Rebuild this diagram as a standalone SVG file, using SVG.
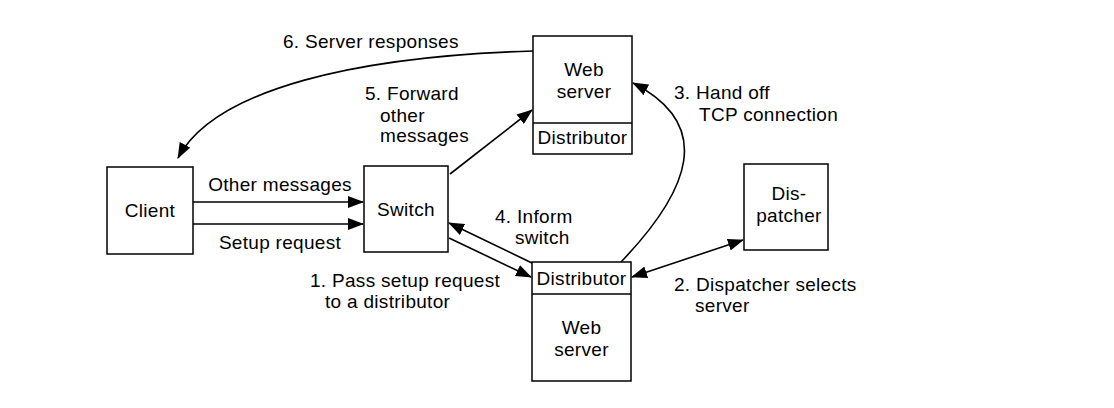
<svg xmlns="http://www.w3.org/2000/svg" width="1114" height="408" viewBox="0 0 1114 408">
<style>
.box{fill:#fff;stroke:#000;stroke-width:1.5}
.t{font-family:"Liberation Sans",Arial,sans-serif;font-size:19px;fill:#000;letter-spacing:0.3px}
.c{text-anchor:middle}
.ln{fill:none;stroke:#000;stroke-width:1.6}
</style>
<defs>
<marker id="ah" markerWidth="16" markerHeight="12" refX="15" refY="6" orient="auto-start-reverse" markerUnits="userSpaceOnUse">
<path d="M0,0 L16,6 L0,12 Z" fill="#000"/>
</marker>
</defs>
<rect width="1114" height="408" fill="#fff"/>
<g id="connectors">
<path class="ln" d="M193,202 L363,202" marker-end="url(#ah)"/>
<path class="ln" d="M193,224 L363,224" marker-end="url(#ah)"/>
<path class="ln" d="M533,51 C360,56 215,88 178,158" marker-end="url(#ah)"/>
<path class="ln" d="M450,174 L532,110" marker-end="url(#ah)"/>
<path class="ln" d="M621,262 C690,190 715,125 633,83" marker-end="url(#ah)"/>
<path class="ln" d="M632,277 L743,240" marker-start="url(#ah)" marker-end="url(#ah)"/>
<path class="ln" d="M532,263 L449,223" marker-end="url(#ah)"/>
<path class="ln" d="M449,238 L531,277" marker-end="url(#ah)"/>
</g>
<g id="client">
<rect class="box" x="107" y="167" width="86" height="87"/>
<text class="t c" x="150" y="217">Client</text>
</g>
<g id="switch">
<rect class="box" x="364" y="166" width="84" height="86"/>
<text class="t c" x="406" y="216">Switch</text>
</g>
<g id="webserver-top">
<rect class="box" x="533" y="36" width="99" height="118"/>
<line class="box" x1="533" y1="123" x2="632" y2="123"/>
<text class="t c" x="584" y="76">Web</text>
<text class="t c" x="584" y="98">server</text>
<text class="t c" x="582.5" y="144">Distributor</text>
</g>
<g id="webserver-bottom">
<rect class="box" x="532" y="262" width="99" height="119"/>
<line class="box" x1="532" y1="294" x2="631" y2="294"/>
<text class="t c" x="581.5" y="285">Distributor</text>
<text class="t c" x="581.5" y="334">Web</text>
<text class="t c" x="581.5" y="356">server</text>
</g>
<g id="dispatcher">
<rect class="box" x="744" y="164" width="84" height="86"/>
<text class="t c" x="789" y="200">Dis-</text>
<text class="t c" x="789" y="222">patcher</text>
</g>
<g id="labels">
<text class="t c" x="280" y="191">Other messages</text>
<text class="t c" x="280" y="249">Setup request</text>
<text class="t" x="283" y="48">6. Server responses</text>
<text class="t" x="365" y="100">5. Forward</text>
<text class="t" x="380" y="122">other</text>
<text class="t" x="380" y="142">messages</text>
<text class="t" x="674" y="99">3. Hand off</text>
<text class="t" x="699" y="121">TCP connection</text>
<text class="t" x="495" y="223">4. Inform</text>
<text class="t" x="515" y="244">switch</text>
<text class="t" x="310" y="287">1. Pass setup request</text>
<text class="t" x="325" y="308">to a distributor</text>
<text class="t" x="674" y="291">2. Dispatcher selects</text>
<text class="t" x="695" y="312">server</text>
</g>
</svg>
